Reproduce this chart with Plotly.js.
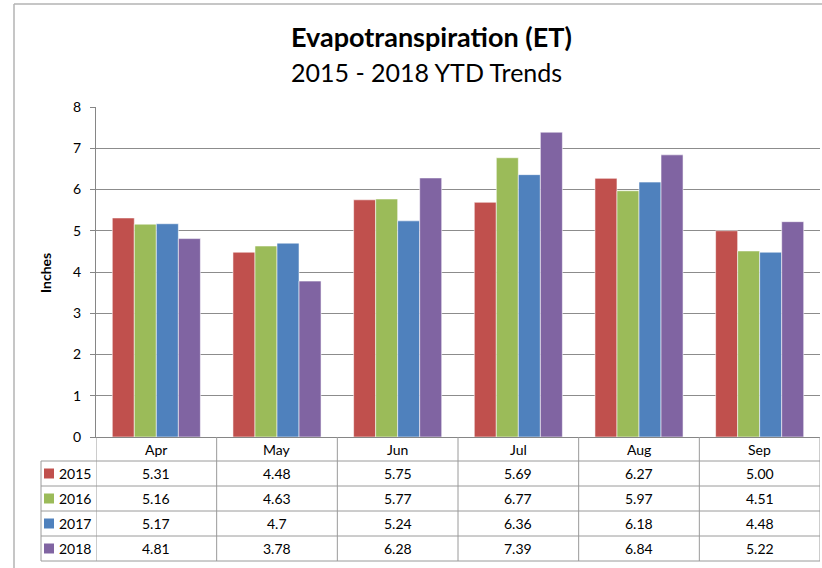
<!DOCTYPE html>
<html>
<head>
<meta charset="utf-8">
<script src="https://cdn.plot.ly/plotly-3.0.1.min.js"></script>
<style>html,body{margin:0;padding:0;background:#fff;}#chart{width:822px;height:568px;}</style>
</head>
<body>
<div id="chart"></div>
<script>
const months = ['Apr', 'May', 'Jun', 'Jul', 'Aug', 'Sep'];
const years = ['2015', '2016', '2017', '2018'];
const et2015 = [5.31, 4.48, 5.75, 5.69, 6.27, 5.00];
const et2016 = [5.16, 4.63, 5.77, 6.77, 5.97, 4.51];
const et2017 = [5.17, 4.7, 5.24, 6.36, 6.18, 4.48];
const et2018 = [4.81, 3.78, 6.28, 7.39, 6.84, 5.22];
const lbl2015 = ['5.31', '4.48', '5.75', '5.69', '6.27', '5.00'];
const lbl2016 = ['5.16', '4.63', '5.77', '6.77', '5.97', '4.51'];
const lbl2017 = ['5.17', '4.7', '5.24', '6.36', '6.18', '4.48'];
const lbl2018 = ['4.81', '3.78', '6.28', '7.39', '6.84', '5.22'];
const yTicks = [0, 1, 2, 3, 4, 5, 6, 7, 8];

const series = [et2015, et2016, et2017, et2018];
const labels = [lbl2015, lbl2016, lbl2017, lbl2018];
const colors = ['#C0504D', '#9BBB59', '#4F81BD', '#8064A2'];
const FONT = 'Lato, "Open Sans", sans-serif';

const W = 822, H = 568, ML = 96, MR = 2, MT = 107, MB = 131;
const PW = W - ML - MR, PH = H - MT - MB;
const px2x = p => (p - ML) / PW;
const py2y = p => (H - MB - p) / PH;

const traces = series.map((s, i) => ({
  type: 'bar', name: years[i], x: months, y: s,
  marker: {color: colors[i], line: {color: 'rgba(255,255,255,0.55)', width: 1}},
  hoverinfo: 'x+y+name'
}));

const lineCol = '#9a9a9a';
const shapes = [];
const annotations = [];
const txt = (o) => Object.assign({showarrow: false, xanchor: 'center', yanchor: 'middle'}, o);

// outer chart border (left and top)
shapes.push({type: 'line', xref: 'paper', yref: 'paper', x0: px2x(14), x1: px2x(W + 5), y0: py2y(4), y1: py2y(4), line: {color: '#b3b3b3', width: 1.5}});
shapes.push({type: 'line', xref: 'paper', yref: 'paper', x0: px2x(14), x1: px2x(14), y0: py2y(4), y1: py2y(H + 5), line: {color: '#b3b3b3', width: 1.5}});

// data table
const rowLines = [461, 486, 511, 536, 561];
rowLines.forEach(py => shapes.push({type: 'line', xref: 'paper', yref: 'paper', x0: px2x(41), x1: 1, y0: py2y(py), y1: py2y(py), line: {color: lineCol, width: 1}}));
for (let k = 0; k <= months.length; k++) {
  shapes.push({type: 'line', xref: 'x', yref: 'paper', x0: k - 0.5, x1: k - 0.5, y0: 0, y1: py2y(561), line: {color: lineCol, width: 1}});
}
shapes.push({type: 'line', xref: 'paper', yref: 'paper', x0: px2x(41), x1: px2x(41), y0: py2y(461), y1: py2y(561), line: {color: lineCol, width: 1}});

// header
months.forEach((m, j) => annotations.push(txt({xref: 'x', yref: 'paper', x: j, y: py2y(449), text: m, font: {family: FONT, size: 14, color: '#000'}})));
const rowCenters = [473.5, 498.5, 523.5, 548.5];
years.forEach((yr, i) => {
  const yc = py2y(rowCenters[i]);
  shapes.push({type: 'rect', xref: 'paper', yref: 'paper', x0: px2x(44), x1: px2x(54), y0: yc - 5 / PH, y1: yc + 5 / PH, fillcolor: colors[i], line: {width: 0}});
  annotations.push(txt({xref: 'paper', yref: 'paper', x: px2x(57), y: yc, xanchor: 'left', text: yr, font: {family: FONT, size: 14, color: '#000'}}));
  labels[i].forEach((t, j) => annotations.push(txt({xref: 'x', yref: 'paper', x: j, y: yc, text: t, font: {family: FONT, size: 14, color: '#000'}})));
});

// titles
annotations.push(txt({xref: 'paper', yref: 'paper', x: px2x(431), y: py2y(37), text: '<b>Evapotranspiration (ET)</b>', font: {family: FONT, size: 27, color: '#000'}}));
annotations.push(txt({xref: 'paper', yref: 'paper', x: px2x(426), y: py2y(72), text: '2015 - 2018 YTD Trends', font: {family: FONT, size: 25, color: '#000'}}));
annotations.push(txt({xref: 'paper', yref: 'paper', x: px2x(45), y: py2y(273), text: '<b>Inches</b>', textangle: -90, font: {family: FONT, size: 14, color: '#000'}}));

const layout = {
  width: W, height: H,
  margin: {l: ML, r: MR, t: MT, b: MB, pad: 0},
  paper_bgcolor: '#fff', plot_bgcolor: '#fff',
  barmode: 'group', bargap: 0.27, bargroupgap: 0,
  showlegend: false,
  xaxis: {type: 'category', showticklabels: false, ticks: '', showline: true, linecolor: '#868686', linewidth: 1, showgrid: false, zeroline: false, range: [-0.5, 5.5]},
  yaxis: {range: [0, 8], tickvals: yTicks, ticktext: yTicks.map(String), showgrid: true, gridcolor: '#8c8c8c', gridwidth: 1, showline: true, linecolor: '#868686', linewidth: 1, ticks: 'outside', ticklen: 5, tickcolor: '#868686', zeroline: false, tickfont: {family: FONT, size: 14, color: '#000'}, ticklabelstandoff: 6},
  shapes: shapes,
  annotations: annotations
};

Plotly.newPlot('chart', traces, layout, {displayModeBar: false, staticPlot: true});
</script>
</body>
</html>
